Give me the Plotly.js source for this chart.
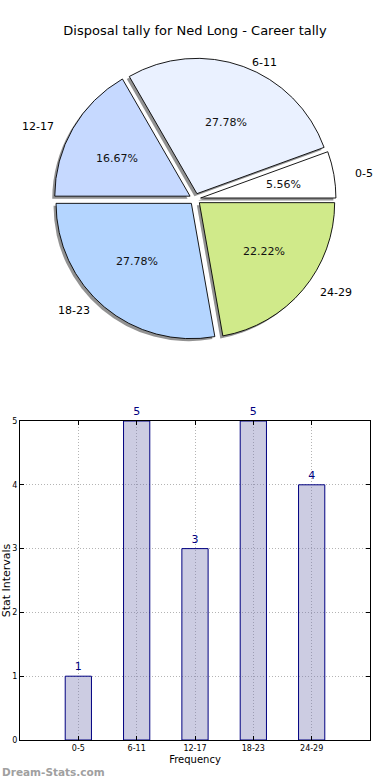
<!DOCTYPE html>
<html>
<head>
<meta charset="utf-8">
<script src="https://cdn.plot.ly/plotly-3.0.1.min.js"></script>
<style>html,body{margin:0;padding:0;background:#fff}#chart{width:390px;height:780px}</style>
</head>
<body>
<div id="chart"></div>
<script>
var categories = ['0-5', '6-11', '12-17', '18-23', '24-29'];
var counts = [1, 5, 3, 5, 4];
var sliceColors = ['#ffffff', '#eaf1ff', '#c6d9ff', '#b4d5ff', '#d0ea8a'];
var yTicks = [0, 1, 2, 3, 4, 5];

var pieTitle = 'Disposal tally for Ned Long - Career tally';
var xTitle = 'Frequency';
var yTitle = 'Stat Intervals';
var watermark = 'Dream-Stats.com';

var FONT = 'DejaVu Sans, Verdana, sans-serif';
var W = 390, H = 780;
var total = counts.reduce(function(a, b){ return a + b; }, 0);
// first slice starts at 3 o'clock going counterclockwise (Plotly anchors the first slice's end at `rotation`)
var pieRotation = 90 - 360 * counts[0] / total;
var pieCx = 195, pieCy = 199, pieHalf = 141;
var pieDomX = [(pieCx - pieHalf) / W, (pieCx + pieHalf) / W];
var pieDomY = [1 - (pieCy + pieHalf) / H, 1 - (pieCy - pieHalf) / H];
var pullAmt = 0.042;
var shadowDx = -2.5 / W, shadowDy = -2.5 / H;
// label placement (matplotlib style: labels at 1.1 r, percentages at 0.6 r)
var labRx = 141, labRy = 127, explodePx = 5.5;

var pieCommon = {
  type: 'pie', values: counts, labels: categories, sort: false,
  direction: 'counterclockwise', rotation: pieRotation,
  pull: counts.map(function(){ return pullAmt; }),
  hoverinfo: 'skip', showlegend: false, textinfo: 'none'
};

var shadow = Object.assign({}, pieCommon, {
  domain: {x: [pieDomX[0] + shadowDx, pieDomX[1] + shadowDx], y: [pieDomY[0] + shadowDy, pieDomY[1] + shadowDy]},
  marker: {colors: counts.map(function(){ return 'rgba(110,110,110,0.75)'; }), line: {width: 0}}
});

var main = Object.assign({}, pieCommon, {
  domain: {x: pieDomX, y: pieDomY},
  marker: {colors: sliceColors, line: {color: '#000000', width: 0.9}}
});

var bars = {
  type: 'bar', x: categories, y: counts, xaxis: 'x', yaxis: 'y',
  width: 0.45,
  marker: {color: 'rgba(120,120,180,0.38)', line: {color: '#000080', width: 1}},
  text: counts.map(String), textposition: 'outside', cliponaxis: false,
  textfont: {family: FONT, size: 11, color: '#000080'},
  hoverinfo: 'skip', showlegend: false
};

var annotations = [{
  text: watermark, xref: 'paper', yref: 'paper', x: 0, y: 0,
  xanchor: 'left', yanchor: 'bottom', showarrow: false,
  font: {family: FONT, size: 10.5, color: '#a0a0a0', weight: 'bold'}
}];

var cum = 0;
counts.forEach(function(v, i) {
  var mid = 2 * Math.PI * (cum + v / 2) / total;
  cum += v;
  var c = Math.cos(mid), s = Math.sin(mid);
  var lx = pieCx + (explodePx + 1.1 * labRx) * c;
  var ly = pieCy - (explodePx + 1.1 * labRy) * s;
  annotations.push({
    text: categories[i], xref: 'paper', yref: 'paper', x: lx / W, y: 1 - ly / H,
    xanchor: c >= 0 ? 'left' : 'right', yanchor: 'middle', showarrow: false,
    font: {family: FONT, size: 11, color: '#000'}
  });
  var px = pieCx + (explodePx + 0.6 * labRx) * c;
  var py = pieCy - (explodePx + 0.6 * labRy) * s;
  annotations.push({
    text: (100 * v / total).toFixed(2) + '%', xref: 'paper', yref: 'paper', x: px / W, y: 1 - py / H,
    xanchor: 'center', yanchor: 'middle', showarrow: false,
    font: {family: FONT, size: 11, color: '#111'}
  });
});

var gridStyle = {showgrid: true, gridcolor: '#b4b4b4', griddash: '1px,2px', gridwidth: 1};

var layout = {
  width: W, height: H,
  margin: {l: 0, r: 0, t: 0, b: 0},
  paper_bgcolor: '#fff', plot_bgcolor: '#fff',
  font: {family: FONT, color: '#000'},
  title: {text: pieTitle, font: {family: FONT, size: 13, color: '#000'}, x: 0.5, xanchor: 'center', y: 1 - 30 / H, yanchor: 'middle'},
  xaxis: Object.assign({
    domain: [20 / W, 370 / W], range: [-1, 5], type: 'category',
    showline: true, linecolor: '#000', linewidth: 1, mirror: 'ticks',
    ticks: 'inside', ticklen: 4, tickcolor: '#000',
    tickfont: {family: FONT, size: 8, color: '#000'},
    title: {text: xTitle, font: {family: FONT, size: 10, color: '#000'}, standoff: 4},
    zeroline: false, fixedrange: true
  }, gridStyle),
  yaxis: Object.assign({
    domain: [1 - 740 / H, 1 - 421 / H], range: [0, 5],
    tickvals: yTicks, ticktext: yTicks.map(String),
    showline: true, linecolor: '#000', linewidth: 1, mirror: 'ticks',
    ticks: 'inside', ticklen: 4, tickcolor: '#000',
    tickfont: {family: FONT, size: 8, color: '#000'},
    title: {text: yTitle, font: {family: FONT, size: 11, color: '#000'}, standoff: 0},
    zeroline: false, fixedrange: true
  }, gridStyle),
  annotations: annotations
};

Plotly.newPlot('chart', [shadow, main, bars], layout, {staticPlot: true, displayModeBar: false});
</script>
</body>
</html>
